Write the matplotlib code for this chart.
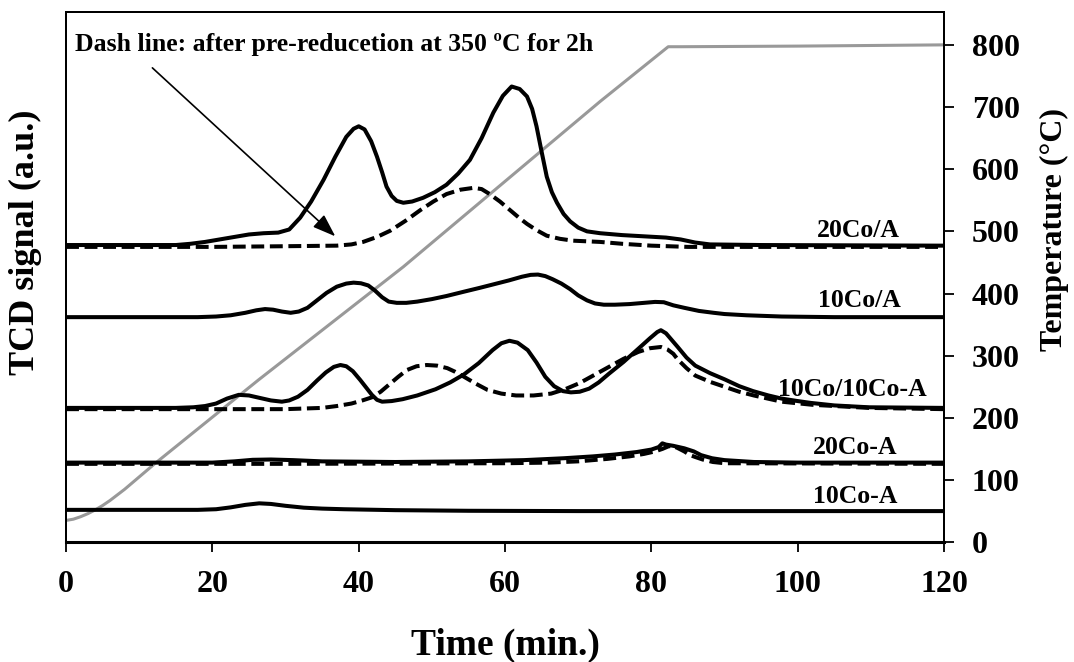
import matplotlib
matplotlib.use("Agg")
import matplotlib.pyplot as plt

# TCD traces (a.u., on a 0-853 scale so they stack like the original), time in min
t_20coA = [0, 10, 15, 17, 19, 21, 23, 25, 27, 29, 30.5, 32, 33.5, 35.2, 36.8, 38.3, 39.3, 40.0, 40.8, 41.7,
           42.5, 43.2, 43.8, 44.5, 45.2, 46.1, 47.3, 48.8, 50.4, 52, 53.6, 55.2, 56.8, 58.4, 59.7, 60.9,
           62, 63, 63.7, 64.3, 65, 65.7, 66.4, 67.1, 68, 68.9, 70, 71.2, 73, 76, 79, 82, 84, 86, 88, 95, 120]
s_20coA = [478, 478, 478, 480, 483, 487, 491, 495, 497, 498, 503, 522, 548, 583, 620, 652, 665, 669, 664, 645,
           620, 595, 572, 557, 549, 546, 548, 554, 563, 575, 593, 615, 650, 691, 718, 733,
           729, 717, 697, 669, 628, 588, 563, 546, 528, 516, 506, 500, 497, 494, 492, 490, 487, 482, 479, 478, 477]

t_20coA_red = [0, 20, 29.2, 37, 39, 40.6, 42.5, 44.3, 46.4, 48.4, 50.2, 52, 53.9, 55.7, 56.8, 57.9, 59.3,
               60.7, 61.9, 63, 64.3, 65.7, 67.5, 69.3, 73, 76, 80, 85, 120]
s_20coA_red = [475, 475, 476, 477, 479, 483, 491, 501, 517, 534, 548, 560, 567, 570, 568, 560, 548,
               534, 522, 512, 502, 493, 488, 485, 483, 480, 477, 475, 475]

t_10coA = [0, 18, 20.5, 22.5, 24.5, 26, 27.2, 28.3, 29.5, 30.7, 31.8, 33, 34.3, 35.6, 37, 38.3, 39.3, 40.3,
           41.3, 42.2, 43.2, 44.1, 45.2, 46.5, 48, 50, 52, 54.4, 56.5, 58.5, 60.5, 62.3, 63.5, 64.5, 65.5,
           66.5, 67.7, 68.9, 70, 71.2, 72.3, 73.5, 75, 77, 79, 80.5, 81.7, 83, 84.5, 86.5, 88.5, 90, 93,
           97.8, 105, 120]
s_10coA = [362, 362, 363, 365, 369, 373, 375, 374, 371, 369, 371, 377, 389, 401, 411, 416, 417.5, 416.5,
           413, 405, 394, 387, 385, 385, 387, 391, 396, 403, 409, 415, 421, 427, 430, 430.5, 428,
           423, 416, 407, 397, 389, 384, 382, 382, 383, 385, 386.5, 386, 381, 377, 372, 369, 367, 365,
           363, 362, 362]

t_10co10coA = [0, 15, 17.4, 19, 20.5, 22, 23.6, 25, 26.5, 28, 29.5, 30.5, 31.7, 33, 34.3, 35.5, 36.6, 37.5,
               38.3, 39.2, 40.2, 41, 41.8, 42.5, 43.2, 44.5, 46, 48, 50.5, 52.5, 54.4, 56.4, 58.3, 59.5,
               60.6, 61.7, 63.1, 64.3, 65.5, 66.7, 67.9, 69, 70.2, 71.5, 72.8, 74.2, 76.2, 78.2, 79.8,
               80.8, 81.3, 82, 82.8, 83.6, 84.8, 86, 88, 90, 92, 93.9, 96, 97.8, 100, 101.8, 105, 109.7, 120]
s_10co10coA = [216, 216, 217, 219, 223, 231, 237, 236, 232, 228, 226, 228, 234, 245, 260, 273, 282, 285,
               283, 275, 261, 249, 237, 229, 226, 227, 230, 236, 246, 257, 270, 288, 309, 320,
               324, 321, 309, 289, 266, 251, 243, 241, 242, 247, 257, 271, 290, 311, 328,
               338, 341, 336, 325, 314, 297, 284, 272, 262, 251, 243, 236, 231, 227, 224, 220, 217, 216]

t_10co10coA_red = [0, 30, 35, 37, 39, 40.5, 41.8, 43, 44.1, 45.4, 46.6, 47.9, 49.3, 50.7, 52.1, 53.2, 54.4,
                   56, 57.6, 59.5, 61.5, 63.9, 66.3, 68.2, 70.2, 72.2, 74.2, 76.2, 78.2, 79.8, 81.3, 82.2,
                   83, 83.6, 84.8, 86, 88, 90, 92, 94, 97.8, 102, 109.7, 120]
s_10co10coA_red = [214, 214, 216, 219, 223, 228, 233, 242, 253, 266, 277, 283, 285, 284, 280, 274, 266,
                   255, 245, 239, 236, 236, 239, 246, 256, 269, 282, 295, 306, 312, 314, 310,
                   303, 294, 280, 268, 258, 250, 242, 236, 226, 221, 216, 214]

t_20coA2 = [0, 20, 23, 25.5, 28, 31, 35, 45, 55, 62.6, 68, 72, 75, 78, 80, 81, 81.5, 82, 83, 84.5, 85.8,
            86.8, 88.3, 90, 94, 100, 120]
s_20coA2 = [128, 128, 130, 132.5, 133, 132, 130, 129, 130, 132, 135, 138, 141, 145, 149, 153, 159, 157, 155,
            151, 146, 140, 135, 132, 129, 128, 128]

t_20coA2_red = [0, 30, 60, 66, 70, 74, 77, 79, 80.5, 81.5, 82.3, 82.8, 83.5, 84.5, 85.3, 86, 87, 88.4, 90, 120]
s_20coA2_red = [126, 126, 127, 128, 130, 134, 138, 142, 146, 150, 154, 155, 152, 146, 140, 137, 133, 129,
                127, 126]

t_10coA2 = [0, 18, 20.5, 22.5, 24.5, 26.4, 28, 30, 32.5, 35, 38, 45, 55, 70, 120]
s_10coA2 = [52, 52, 53, 56, 60, 62.5, 61.5, 58.5, 55.5, 54, 53, 51.5, 50.5, 50, 50]

# furnace temperature programme
t_temp = [0, 1, 2, 3, 4, 5, 6, 8, 10, 12.2, 26.3, 46.1, 73, 82.3, 84, 100, 120]
temp = [35, 37, 41, 46, 52, 59, 67, 85, 105, 127, 261, 443, 709, 797, 797, 798, 800]

sample_names = ["20Co/A", "10Co/A", "10Co/10Co-A", "20Co-A", "10Co-A"]
label_x = [114.0, 114.1, 117.7, 113.7, 113.7]
label_y = [502, 388, 246, 153, 74]

temp_ticks = [0, 100, 200, 300, 400, 500, 600, 700, 800]
time_ticks = [0, 20, 40, 60, 80, 100, 120]

plt.rcParams['font.family'] = ['Liberation Serif', 'DejaVu Serif']
plt.rcParams['font.weight'] = 'bold'

fig = plt.figure(figsize=(10.74, 6.62), dpi=100)
ax = fig.add_axes([0.0615, 0.181, 0.8175, 0.801])
ax2 = ax.twinx()
ax.set_zorder(ax2.get_zorder() + 1)
ax.patch.set_visible(False)

lw = 2.9
dash = (0, (3.2, 1.4))
kw = dict(color='black', lw=lw, solid_joinstyle='round', solid_capstyle='round')
ax.plot(t_20coA, s_20coA, **kw)
ax.plot(t_20coA_red, s_20coA_red, linestyle=dash, **kw)
ax.plot(t_10coA, s_10coA, **kw)
ax.plot(t_10co10coA, s_10co10coA, **kw)
ax.plot(t_10co10coA_red, s_10co10coA_red, linestyle=dash, **kw)
ax.plot(t_20coA2, s_20coA2, **kw)
ax.plot(t_20coA2_red, s_20coA2_red, linestyle=dash, **kw)
ax.plot(t_10coA2, s_10coA2, **kw)

ax2.plot(t_temp, temp, color='#999999', lw=2.2, solid_joinstyle='round')

for name, x, y in zip(sample_names, label_x, label_y):
    ax.text(x, y, name, ha='right', va='center', fontsize=18.5, fontweight='bold')

ax.text(1.2, 800, u"Dash line: after pre-reducetion at 350 \u00baC for 2h", ha='left', va='center',
        fontsize=18.5, fontweight='bold')
ax.annotate('', xy=(36.8, 492), xytext=(11.8, 763),
            arrowprops=dict(arrowstyle='-|>,head_length=0.7,head_width=0.25', color='black', lw=1.2,
                            mutation_scale=20, shrinkA=0, shrinkB=0))

ax.set_xlim(0, 120)
ax.set_ylim(0, 853)
ax2.set_ylim(0, 853)
ax.set_yticks([])
ax.set_xticks(time_ticks)
ax.set_xticklabels([str(v) for v in time_ticks], fontsize=23, fontweight='bold')
ax.tick_params(axis='x', direction='out', length=7, width=1.3, pad=13)
ax2.set_yticks(temp_ticks)
ax2.set_yticklabels([str(v) for v in temp_ticks], fontsize=23, fontweight='bold')
ax2.tick_params(axis='y', direction='out', length=7, width=1.3, pad=13)

for a in (ax, ax2):
    for sp in a.spines.values():
        sp.set_linewidth(1.4)
ax.spines['bottom'].set_linewidth(2.2)

ax.set_xlabel('Time (min.)', fontsize=27, fontweight='bold')
ax.xaxis.set_label_coords(0.5, -0.162)
ax.set_ylabel('TCD signal (a.u.)', fontsize=26, fontweight='bold')
ax.yaxis.set_label_coords(-0.027, 0.566)
ax2.set_ylabel('Temperature (\u00b0C)', fontsize=23, fontweight='bold')
ax2.yaxis.set_label_coords(1.109, 0.59)

fig.savefig('out.png', dpi=100)
